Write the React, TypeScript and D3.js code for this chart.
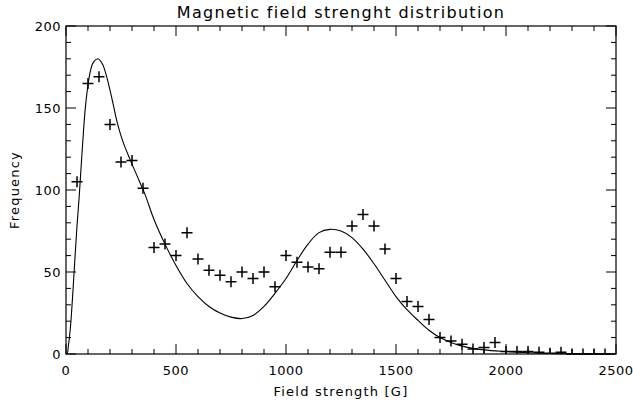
import React, { useEffect, useRef } from 'react';
import * as d3 from 'd3';

// measured points (+ markers)
const fieldBins = [50, 100, 150, 200, 250, 300, 350, 400, 450, 500, 550, 600, 650, 700, 750, 800, 850, 900, 950, 1000,
  1050, 1100, 1150, 1200, 1250, 1300, 1350, 1400, 1450, 1500, 1550, 1600, 1650, 1700, 1750, 1800, 1850, 1900, 1950,
  2000, 2050, 2100, 2150, 2200, 2250, 2300, 2350, 2400, 2450];
const counts = [105, 165, 169, 140, 117, 118, 101, 65, 67, 60, 74, 58, 51, 48, 44, 50, 46, 50, 41, 60,
  56, 53, 52, 62, 62, 78, 85, 78, 64, 46, 32, 29, 21, 10, 8, 6, 3, 4, 7,
  1.5, 1.5, 1.5, 1, 0.5, 1, 0, 0, 0, 0];

// fitted curve
const fitX = [0, 6, 10, 20, 30, 40, 50, 60, 75, 90, 110, 125, 145, 165, 185, 210, 235, 260, 290, 325, 360, 400, 450,
  500, 550, 600, 650, 700, 750, 800, 850, 900, 950, 1000, 1050, 1100, 1150, 1200, 1250, 1300, 1350, 1400, 1450,
  1500, 1550, 1600, 1650, 1700, 1750, 1800, 1900, 2000, 2100, 2200, 2350, 2500];
const fitY = [0, 0.5, 4, 16, 35, 57, 78, 96, 127, 153, 172, 178, 180, 177, 169, 155, 140, 129, 119, 108, 97, 82, 67,
  54, 43, 35, 29, 25, 22.5, 21.6, 23.5, 29, 37, 46, 57, 67, 74, 76, 75, 71, 64, 55, 45,
  35, 27, 20.5, 14.5, 10, 7, 4.8, 2.5, 1.5, 0.8, 0.3, 0.1, 0];

const xTicks = [0, 500, 1000, 1500, 2000, 2500];
const yTicks = [0, 50, 100, 150, 200];

const App = () => {
  const svgRef = useRef(null);

  useEffect(() => {
    const width = 633;
    const height = 403;
    const m = { left: 66, right: 17, top: 26, bottom: 49 };
    const font = 'DejaVu Sans, sans-serif';

    const svg = d3.select(svgRef.current);
    svg.selectAll('*').remove();
    svg.attr('width', width).attr('height', height);

    const x = d3.scaleLinear().domain([0, 2500]).range([m.left, width - m.right]);
    const y = d3.scaleLinear().domain([0, 200]).range([height - m.bottom, m.top]);

    const x0 = x(0), x1 = x(2500), y0 = y(0), y1 = y(200);

    // box
    svg.append('rect')
      .attr('x', x0).attr('y', y1)
      .attr('width', x1 - x0).attr('height', y0 - y1)
      .attr('fill', 'none').attr('stroke', '#000').attr('stroke-width', 1.2);

    // ticks, inward on all four sides
    const ticks = svg.append('g').attr('stroke', '#000').attr('stroke-width', 1);
    d3.range(0, 2501, 100).forEach(v => {
      const len = v % 500 === 0 ? 10 : 5;
      ticks.append('line').attr('x1', x(v)).attr('x2', x(v)).attr('y1', y0).attr('y2', y0 - len);
      ticks.append('line').attr('x1', x(v)).attr('x2', x(v)).attr('y1', y1).attr('y2', y1 + len);
    });
    d3.range(0, 201, 10).forEach(v => {
      const len = v % 50 === 0 ? 10 : 5;
      ticks.append('line').attr('x1', x0).attr('x2', x0 + len).attr('y1', y(v)).attr('y2', y(v));
      ticks.append('line').attr('x1', x1).attr('x2', x1 - len).attr('y1', y(v)).attr('y2', y(v));
    });

    const txt = (sel, size, spacing) => sel
      .attr('font-family', font).attr('font-size', size)
      .attr('letter-spacing', spacing).attr('fill', '#000');

    svg.append('g').selectAll('text')
      .data(xTicks).enter().append('text')
      .attr('x', d => x(d)).attr('y', y0 + 21)
      .attr('text-anchor', 'middle')
      .call(txt, 13, 0.5)
      .text(d => d);

    svg.append('g').selectAll('text')
      .data(yTicks).enter().append('text')
      .attr('x', x0 - 5).attr('y', d => y(d) + 5)
      .attr('text-anchor', 'end')
      .call(txt, 13, 0.5)
      .text(d => d);

    // fit curve
    const line = d3.line()
      .x((d, i) => x(fitX[i]))
      .y(d => y(d))
      .curve(d3.curveCatmullRom.alpha(0.5));
    svg.append('path')
      .datum(fitY)
      .attr('d', line)
      .attr('fill', 'none')
      .attr('stroke', '#000')
      .attr('stroke-width', 1.1);

    // plus markers
    const s = 5.5;
    const pts = svg.append('g').attr('stroke', '#000').attr('stroke-width', 1.5);
    fieldBins.forEach((v, i) => {
      const px = x(v), py = y(counts[i]);
      pts.append('path').attr('d', `M${px - s},${py}H${px + s}M${px},${py - s}V${Math.min(py + s, y0)}`);
    });

    svg.append('text')
      .attr('x', (x0 + x1) / 2).attr('y', 18)
      .attr('text-anchor', 'middle')
      .call(txt, 16, 1.3)
      .text('Magnetic field strenght distribution');

    svg.append('text')
      .attr('x', (x0 + x1) / 2).attr('y', 396)
      .attr('text-anchor', 'middle')
      .call(txt, 13, 1.2)
      .text('Field strength [G]');

    svg.append('text')
      .attr('transform', `translate(19, ${(y0 + y1) / 2}) rotate(-90)`)
      .attr('text-anchor', 'middle')
      .call(txt, 13, 1.2)
      .text('Frequency');
  }, []);

  return (
    <svg ref={svgRef} style={{ position: 'absolute', left: 0, top: 0, background: '#fff' }}></svg>
  );
};

export default App;
